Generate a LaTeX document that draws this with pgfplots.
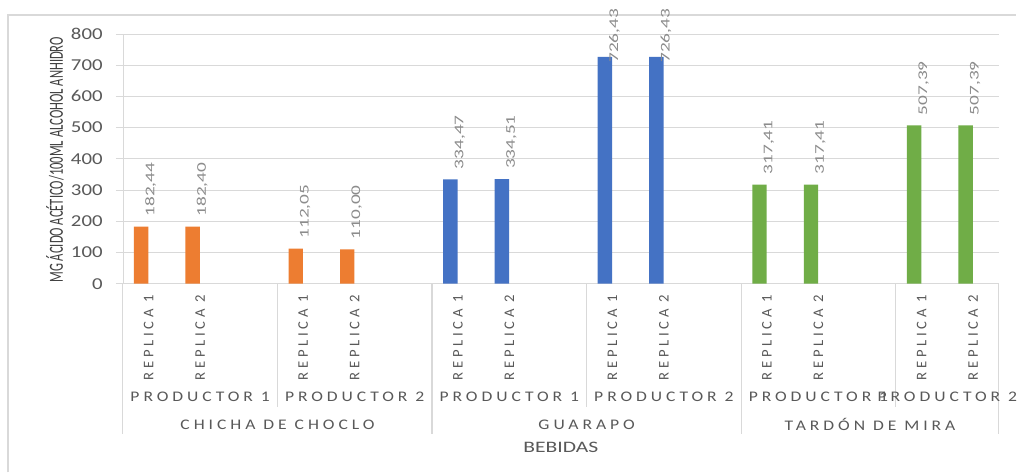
\documentclass[border=0pt]{standalone}
\usepackage{fontspec}
\usepackage{pgfplots}
\pgfplotsset{compat=1.18}
\setmainfont{Carlito}
\newfontfamily\tickfont[FakeStretch=1.25]{Carlito}
\newfontfamily\catfont[FakeStretch=1.2,LetterSpace=27]{Carlito}
\newfontfamily\repfont[LetterSpace=25]{Carlito}
\newfontfamily\dlfont[FakeStretch=1.45]{Carlito}
\newfontfamily\ytitlefont[FakeStretch=0.63]{Carlito}
\newfontfamily\xtitlefont[FakeStretch=1.35]{Carlito}
\definecolor{cOr}{HTML}{ED7D31}
\definecolor{cBl}{HTML}{4472C4}
\definecolor{cGr}{HTML}{70AD47}
\definecolor{gridgray}{HTML}{D9D9D9}
\definecolor{tickgray}{HTML}{595959}
\definecolor{dlgray}{HTML}{8C8C8C}
\definecolor{titlegray}{HTML}{404040}
\newcommand{\dl}{\dlfont\fontsize{10}{12}\selectfont\pgfmathprintnumber[fixed,fixed zerofill,precision=2,use comma,assume math mode=true]{\pgfplotspointmeta}}
\begin{document}
\begin{tikzpicture}
\begin{scope}[x=0.75pt,y=0.75pt]
\useasboundingbox (0,0) rectangle (1017,473);
\fill[white] (0,0) rectangle (1017,473);
\draw[gridgray, line width=0.9pt] (8,0) -- (8,458) -- (1017,458);
\end{scope}
\begin{axis}[
  at={(92.25pt,141.75pt)}, anchor=south west,
  scale only axis, width=657.75pt, height=187.5pt,
  xmin=-0.5, xmax=16.5, ymin=0, ymax=800,
  ytick={0,100,...,800},
  xtick={0,1,3,4,6,7,9,10,12,13,15,16},
  xticklabels={REPLICA 1,REPLICA 2,REPLICA 1,REPLICA 2,REPLICA 1,REPLICA 2,REPLICA 1,REPLICA 2,REPLICA 1,REPLICA 2,REPLICA 1,REPLICA 2},
  major tick length=0pt,
  axis lines=left,
  axis line style={gridgray, -},
  ymajorgrids, grid style={gridgray, line width=0.6pt},
  /pgf/number format/assume math mode=true,
  yticklabel style={font=\tickfont\fontsize{12.5}{14}\selectfont, text=tickgray, anchor=east, inner sep=0pt, xshift=-15pt},
  xticklabel style={yshift=-8.25pt, rotate=90, anchor=east, inner sep=0pt, font=\repfont\fontsize{11}{13}\selectfont, text=tickgray},
  clip=false,
  every node near coord/.append style={text=dlgray, inner sep=0pt},
]
\addplot[ybar, bar width=0.28, bar shift=-0.145, fill=cOr, draw=none,
  nodes near coords={\dl},
  nodes near coords style={xshift=1.5pt, yshift=7.5pt, rotate=90, anchor=west}]
  coordinates {(0,182.44) (1,182.40) (3,112.05) (4,110.00)};
\addplot[ybar, bar width=0.28, bar shift=-0.145, fill=cBl, draw=none,
  nodes near coords={\dl},
  nodes near coords style={xshift=1.5pt, yshift=7.5pt, rotate=90, anchor=west}]
  coordinates {(6,334.47) (7,334.51)};
\addplot[ybar, bar width=0.28, bar shift=-0.145, fill=cBl, draw=none,
  nodes near coords={\dl},
  nodes near coords style={xshift=1.5pt, yshift=-4.5pt, rotate=90, anchor=west}]
  coordinates {(9,726.43) (10,726.43)};
\addplot[ybar, bar width=0.28, bar shift=-0.145, fill=cGr, draw=none,
  nodes near coords={\dl},
  nodes near coords style={xshift=1.5pt, yshift=7.5pt, rotate=90, anchor=west}]
  coordinates {(12,317.41) (13,317.41) (15,507.39) (16,507.39)};
\end{axis}
\begin{scope}[x=0.75pt,y=0.75pt]
% y tick stubs
\foreach \v in {0,...,8} \draw[gridgray, line width=0.6pt] (116,189+31.25*\v) -- (123,189+31.25*\v);
% category dividers
\foreach \xx in {277.8,587.3,896.8} \draw[gridgray, line width=0.9pt] (\xx,189) -- (\xx,66);
\foreach \xx in {123,432.5,742.1,1000} \draw[gridgray, line width=0.9pt] (\xx,189) -- (\xx,38);
% productor labels
\foreach \xx/\t in {200.4/PRODUCTOR 1,355.1/PRODUCTOR 2,509.9/PRODUCTOR 1,664.7/PRODUCTOR 2,819.4/PRODUCTOR 1,948.4/PRODUCTOR 2}
  \node[inner sep=0pt, text=tickgray, font=\catfont\fontsize{11}{13}\selectfont] at (\xx,76) {\t};
\foreach \xx/\t in {277.8/CHICHA DE CHOCLO,587.3/GUARAPO,871/TARDÓN DE MIRA}
  \node[inner sep=0pt, text=tickgray, font=\catfont\fontsize{11}{13}\selectfont] at (\xx,48) {\t};
\node[inner sep=0pt, text=tickgray, font=\xtitlefont\fontsize{12}{14}\selectfont] at (561.5,25) {BEBIDAS};
\node[inner sep=0pt, rotate=90, text=titlegray, font=\ytitlefont\fontsize{15}{17}\selectfont] at (55,313) {MG ÁCIDO ACÉTICO/100ML ALCOHOL ANHIDRO};
\end{scope}
\end{tikzpicture}
\end{document}
